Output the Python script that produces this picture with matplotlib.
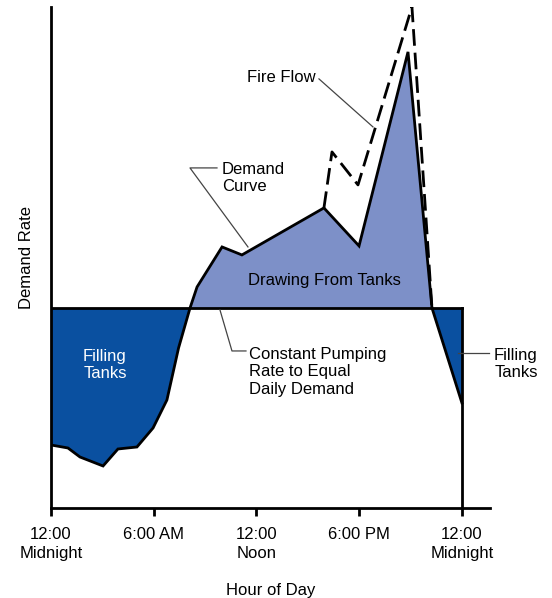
import numpy as np
import matplotlib.pyplot as plt

plt.rcParams['font.family'] = ['Liberation Sans', 'DejaVu Sans']

# hours of day / demand rate (pumping rate = 1.0)
demand_hours = [0, 0.99, 1.69, 3.04, 3.91, 5.02, 5.96, 6.77, 7.45, 8.12, 8.53,
                9.99, 11.15, 15.94, 17.99, 20.85, 22.25, 24.0]
demand_rate = [0.315, 0.30, 0.255, 0.21, 0.295, 0.305, 0.40, 0.54, 0.80, 1.0, 1.105,
               1.305, 1.265, 1.50, 1.31, 2.28, 1.0, 0.525]
fire_hours = [15.94, 16.41, 17.93, 21.08, 22.25]
fire_rate = [1.50, 1.78, 1.615, 2.505, 1.0]
pump_rate = 1.0

tick_hours = [0, 6, 12, 18, 24]
tick_labels = ['12:00\nMidnight', '6:00 AM', '12:00\nNoon', '6:00 PM', '12:00\nMidnight']

dark_blue = '#0a50a0'
light_blue = '#7d90c8'

fig = plt.figure(figsize=(5.52, 5.98), dpi=100)
ax = fig.add_axes([0.0924, 0.1505, 0.795, 0.838])

x = np.array(demand_hours)
y = np.array(demand_rate)

# fine grid for fills so the crossings are exact
xf = np.linspace(0, 24, 2401)
yf = np.interp(xf, x, y)
ax.fill_between(xf, yf, pump_rate, where=yf <= pump_rate, color=dark_blue, lw=0)
ax.fill_between(xf, yf, pump_rate, where=yf >= pump_rate, color=light_blue, lw=0)

ax.plot(x, y, color='black', lw=2, solid_joinstyle='miter')
ax.plot(fire_hours, fire_rate, color='black', lw=2, dashes=(6, 2.5))
ax.plot([0, 24], [pump_rate, pump_rate], color='black', lw=2)
ax.plot([24, 24], [0, pump_rate], color='black', lw=2)

fs = 12
ax.set_xlim(0, 25.63)
ax.set_ylim(0, 2.505)
for s in ['top', 'right']:
    ax.spines[s].set_visible(False)
for s in ['left', 'bottom']:
    ax.spines[s].set_linewidth(2)
ax.set_yticks([])
ax.set_xticks(tick_hours)
ax.set_xticklabels(tick_labels, fontsize=fs, linespacing=1.3)
ax.tick_params(axis='x', length=6, width=2, pad=8)
ax.set_xlabel('Hour of Day', fontsize=fs, labelpad=16)
ax.set_ylabel('Demand Rate', fontsize=fs, labelpad=12)

# annotations placed in picture pixels, turned into data units
def px(xp, yp):
    return ((xp - 51) / 17.125, (508 - yp) / 200)

ax.text(*px(281, 78), 'Fire Flow', fontsize=fs, ha='center', va='center')
ax.plot(*zip(px(319, 79), px(373, 127)), color='#444444', lw=0.9)

ax.text(*px(222, 178), 'Demand\nCurve', fontsize=fs, ha='left', va='center', linespacing=1.2)
ax.plot(*zip(px(217, 168), px(190, 168), px(248, 247)), color='#444444', lw=0.9)

ax.text(*px(324, 281), 'Drawing From Tanks', fontsize=fs, ha='center', va='center')
ax.text(*px(105, 365), 'Filling\nTanks', fontsize=fs, ha='center', va='center',
        color='white', linespacing=1.2)

ax.text(*px(249, 372), 'Constant Pumping\nRate to Equal\nDaily Demand', fontsize=fs,
        ha='left', va='center', linespacing=1.22)
ax.plot(*zip(px(220, 310), px(232, 351), px(246, 351)), color='#444444', lw=0.9)

ax.text(*px(516, 364), 'Filling\nTanks', fontsize=fs, ha='center', va='center',
        linespacing=1.2, clip_on=False)
ax.plot(*zip(px(458, 353), px(489, 353)), color='#444444', lw=0.9, clip_on=False)

fig.savefig('out.png', dpi=100)
